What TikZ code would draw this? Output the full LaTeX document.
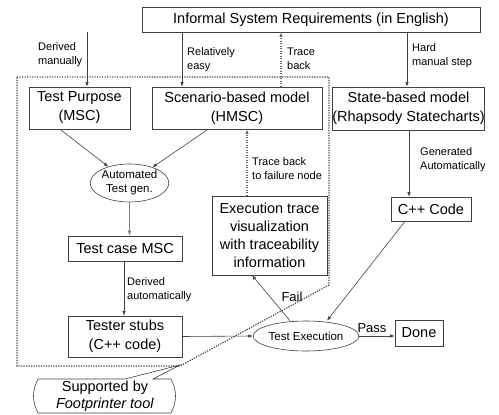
\documentclass[tikz,border=0pt]{standalone}
\usepackage{fontspec}
\setmainfont{Liberation Sans}
\usetikzlibrary{shapes.geometric,arrows.meta}
\definecolor{ln}{HTML}{404040}
\tikzset{
  box/.style={draw=ln,line width=0.6pt,inner sep=0pt,align=center,font=\fontsize{14.5}{19}\selectfont},
  ell/.style={draw=ln,line width=0.6pt,ellipse,inner sep=0pt,align=center,font=\fontsize{11.5}{14}\selectfont},
  arr/.style={draw=ln,line width=0.6pt,-{Latex[length=4.5pt,width=3.5pt]}},
  garr/.style={draw=gray,line width=1.2pt,-{Latex[length=5pt,width=4pt]}},
  darr/.style={draw=gray!80!black,line width=1.1pt,dash pattern=on 1.2pt off 1.3pt,-{Latex[length=4.5pt,width=3.5pt]}},
  lbl/.style={anchor=west,align=left,inner sep=0pt,font=\fontsize{11}{14}\selectfont},
  big/.style={inner sep=0pt,font=\fontsize{13}{15}\selectfont}
}
\begin{document}
\begin{tikzpicture}[x=1pt,y=-1pt]
\useasboundingbox (0,0) rectangle (499,415);
% region
\draw[ln,line width=1.2pt,dash pattern=on 1.2pt off 1.3pt] (17,77) -- (329,77) -- (329,285) -- (180,366) -- (17,366) -- cycle;
% nodes
\node[box,minimum width=338pt,minimum height=25pt] (inf) at (311,19.5) {Informal System Requirements (in English)};
\node[box,minimum width=101pt,minimum height=42pt] (tp) at (79.5,108) {Test Purpose\\(MSC)};
\node[box,minimum width=170pt,minimum height=42pt] (sb) at (237,108) {Scenario-based model\\(HMSC)};
\node[box,minimum width=145pt,minimum height=43pt] (st) at (408.5,108.5) {State-based model\\(Rhapsody Statecharts)};
\node[ell,minimum width=75pt,minimum height=38pt] (atg) at (129.5,183) {Automated\\Test gen.};
\node[box,minimum width=114pt,minimum height=25pt] (tc) at (125,248.5) {Test case MSC};
\node[box,minimum width=114pt,minimum height=41pt] (ts) at (125,336.5) {Tester stubs\\(C++ code)};
\node[ell,minimum width=90pt,minimum height=30pt] (ex) at (306,336) {Test Execution};
\node[box,minimum width=48pt,minimum height=26pt] (done) at (419,333) {Done};
\node[box,minimum width=80pt,minimum height=24pt] (cpp) at (431,209) {C++ Code};
\node[box,minimum width=115pt,minimum height=79pt,font=\fontsize{14.5}{18}\selectfont] (et) at (269.5,235.5) {Execution trace\\visualization\\with traceability\\information};
% callout
\draw[ln,line width=0.6pt] (38,379) -- (125,379) -- (180,365) -- (153,379) -- (171,379)
  .. controls (177,390) and (177,402) .. (171,413) -- (38,413)
  .. controls (32,402) and (32,390) .. (38,379);
\node[inner sep=0pt,align=center,font=\fontsize{14.5}{17}\selectfont] (sup) at (105,396) {Supported by\\\textit{Footprinter tool}};
% x positions
\coordinate (x1) at (87,0);
\coordinate (x2) at (182,0);
\coordinate (x3) at (281,0);
\coordinate (x4) at (407,0);
\coordinate (x5) at (409,0);
\coordinate (x6) at (247,0);
% arrows
\draw[arr] (x1 |- inf.south) -- (x1 |- tp.north);
\draw[arr] (x2 |- inf.south) -- (x2 |- sb.north);
\draw[darr] (x3 |- sb.north) -- (x3 |- inf.south);
\draw[arr] (x4 |- inf.south) -- (x4 |- st.north);
\draw[arr] ([xshift=-19.5pt]tp.south) -- (atg);
\draw[arr] ([xshift=-29pt]sb.south) -- (atg);
\draw[garr] (atg.south) -- (atg.south |- tc.north);
\draw[arr] ([xshift=-1pt]tc.south) -- ([xshift=-1pt]ts.north);
\draw[arr] (ts.east) -- (ex.west);
\draw[arr] (ex.east) -- (done.west |- ex.east);
\draw[arr] ([xshift=-16pt]ex.north) -- ([xshift=-17.5pt]et.south);
\draw[arr] (x5 |- st.south) -- (x5 |- cpp.north);
\draw[arr] ([xshift=-26pt]cpp.south) -- ([xshift=21pt]ex.north);
\draw[darr] (x6 |- et.north) -- (x6 |- sb.south);
% labels
\node[lbl] (l1) at (38,55) {Derived\\manually};
\node[lbl] (l2) at (187,60) {Relatively\\easy};
\node[lbl] (l3) at (287,59) {Trace\\back};
\node[lbl] (l4) at (412,56) {Hard\\manual step};
\node[lbl] (l5) at (420,160) {Generated\\Automatically};
\node[lbl] (l6) at (252,169) {Trace back\\to failure node};
\node[lbl] (l7) at (127,290) {Derived\\automatically};
\node[big] (pass) at (372,328) {Pass};
\node[big] (fail) at (292,297) {Fail};
\end{tikzpicture}
\end{document}
